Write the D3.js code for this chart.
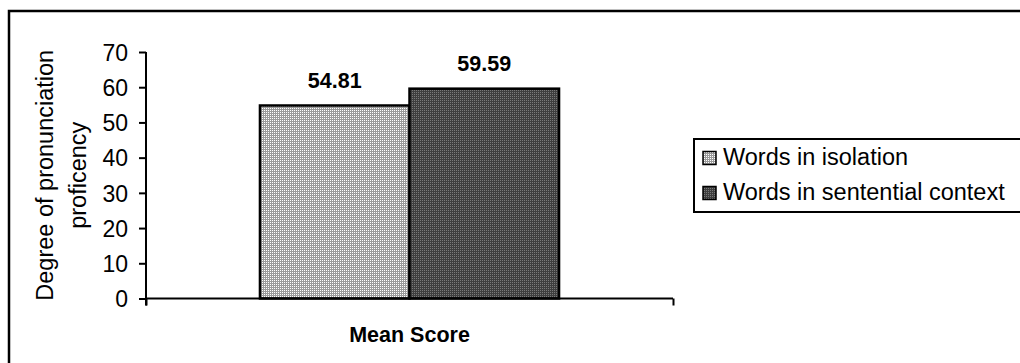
<!DOCTYPE html>
<html>
<head>
<meta charset="utf-8">
<script src="https://cdn.jsdelivr.net/npm/d3@7"></script>
<style>
  html, body { margin: 0; padding: 0; background: #fff; }
  svg { display: block; font-family: "Liberation Sans", Arial, sans-serif; }
</style>
</head>
<body>
<svg id="chart" width="1020" height="363"></svg>
<script>
// Chart data
const categories = ["Mean Score"];
const seriesNames = ["Words in isolation", "Words in sentential context"];
const seriesValues = [54.81, 59.59];
const yTicks = [0, 10, 20, 30, 40, 50, 60, 70];
const yTitleLines = ["Degree of pronunciation", "proficency"];

const svg = d3.select("#chart");

// Fill patterns for the two series
const defs = svg.append("defs");
const light = defs.append("pattern").attr("id", "patLight")
  .attr("patternUnits", "userSpaceOnUse").attr("width", 2).attr("height", 2);
light.append("rect").attr("width", 2).attr("height", 2).attr("fill", "#9a9a9a");
light.append("rect").attr("width", 1).attr("height", 1).attr("fill", "#ffffff");

const dark = defs.append("pattern").attr("id", "patDark")
  .attr("patternUnits", "userSpaceOnUse").attr("width", 2).attr("height", 2);
dark.append("rect").attr("width", 2).attr("height", 2).attr("fill", "#3e3e3e");
dark.append("rect").attr("width", 1).attr("height", 1).attr("fill", "#7a7a7a");

const fills = ["url(#patLight)", "url(#patDark)"];

// Outer frame (runs off the right and bottom edges)
svg.append("rect")
  .attr("x", 9).attr("y", 11).attr("width", 1100).attr("height", 400)
  .attr("fill", "none").attr("stroke", "#000").attr("stroke-width", 2.5);

// Scales
const plot = { left: 146, right: 673, top: 52, bottom: 298.5 };
const y = d3.scaleLinear().domain([0, 70]).range([plot.bottom, plot.top]);
const x0 = d3.scaleBand().domain(categories).range([plot.left, plot.right])
  .paddingInner(0).paddingOuter(0.381);
const x1 = d3.scaleBand().domain(seriesNames).range([0, x0.bandwidth()]).padding(0);

// Bars with value labels
const g = svg.append("g");
categories.forEach(cat => {
  seriesNames.forEach((s, i) => {
    const v = seriesValues[i];
    g.append("rect")
      .attr("x", x0(cat) + x1(s))
      .attr("y", y(v))
      .attr("width", x1.bandwidth())
      .attr("height", y(0) - y(v))
      .attr("fill", fills[i])
      .attr("stroke", "#000")
      .attr("stroke-width", 2.5);
    g.append("text")
      .attr("x", x0(cat) + x1(s) + x1.bandwidth() / 2)
      .attr("y", y(v) - 17.5)
      .attr("text-anchor", "middle")
      .attr("font-size", 21.5)
      .attr("font-weight", "bold")
      .attr("fill", "#000")
      .text(v.toFixed(2));
  });
});

// Y axis
const yAxis = d3.axisLeft(y).tickValues(yTicks).tickSize(7).tickPadding(11)
  .tickFormat(d3.format("d"));
const yg = svg.append("g").attr("transform", `translate(${plot.left},0)`).call(yAxis);
yg.select(".domain").attr("d", `M0,${plot.top}V${plot.bottom + 7}`)
  .attr("stroke", "#000").attr("stroke-width", 2);
yg.selectAll(".tick line").attr("stroke", "#000").attr("stroke-width", 2);
yg.selectAll(".tick text").attr("font-size", 23).attr("fill", "#000")
  .attr("font-family", "'Liberation Sans', Arial, sans-serif").attr("dy", "0.36em");

// X axis
const xAxis = d3.axisBottom(d3.scaleLinear().domain([0, 1]).range([plot.left, plot.right]))
  .tickValues([0, 1]).tickSize(7).tickFormat("");
const xg = svg.append("g").attr("transform", `translate(0,${plot.bottom})`).call(xAxis);
xg.select(".domain").attr("d", `M${plot.left},0H${plot.right}`)
  .attr("stroke", "#000").attr("stroke-width", 2);
xg.selectAll(".tick line").attr("stroke", "#000").attr("stroke-width", 2);

// Category label
svg.append("text")
  .attr("x", x0(categories[0]) + x0.bandwidth() / 2)
  .attr("y", 342)
  .attr("text-anchor", "middle")
  .attr("font-size", 21.5)
  .attr("font-weight", "bold")
  .text(categories[0]);

// Y axis title (two lines, rotated)
const yMid = (plot.top + plot.bottom) / 2;
const titleBaselines = [53, 86];
yTitleLines.forEach((line, i) => {
  svg.append("text")
    .attr("transform", `translate(${titleBaselines[i]},${yMid}) rotate(-90)`)
    .attr("text-anchor", "middle")
    .attr("font-size", 23.5)
    .text(line);
});

// Legend
const legend = svg.append("g");
legend.append("rect")
  .attr("x", 694).attr("y", 139).attr("width", 400).attr("height", 73)
  .attr("fill", "#fff").attr("stroke", "#000").attr("stroke-width", 2);
seriesNames.forEach((s, i) => {
  const rowY = 151.5 + i * 35;
  legend.append("rect")
    .attr("x", 703).attr("y", rowY).attr("width", 13).attr("height", 13)
    .attr("fill", fills[i]).attr("stroke", "#000").attr("stroke-width", 1.5);
  legend.append("text")
    .attr("x", 723).attr("y", rowY + 13)
    .attr("font-size", 23.5)
    .text(s);
});
</script>
</body>
</html>
